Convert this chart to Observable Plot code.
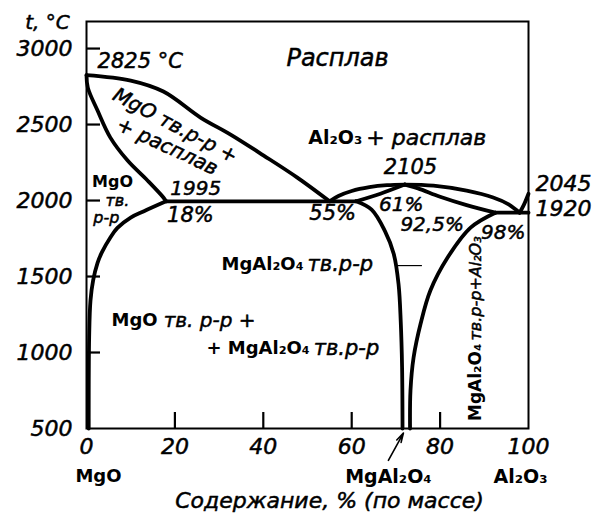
<!DOCTYPE html>
<html>
<head>
<meta charset="utf-8">
<script src="https://cdn.jsdelivr.net/npm/d3@7"></script>
<script src="https://cdn.jsdelivr.net/npm/@observablehq/plot@0.6"></script>
<style>
  html, body { margin: 0; padding: 0; background: #fff; }
</style>
</head>
<body>
<div id="chart"></div>
<script>
// Axis ticks: Al2O3 content, wt.% and temperature, °C
const compTicks = [0, 20, 40, 60, 80, 100];
const compInnerTicks = [20, 40, 60, 80];
const tempTicks = [500, 1000, 1500, 2000, 2500, 3000];
const tempInnerTicks = [1000, 1500, 2000, 2500, 3000];

// Phase boundaries of the MgO–Al2O3 system, points are [Al2O3 wt.%, t °C]
const liquidusMgO = [[0, 2825], [10, 2789], [17.4, 2717], [25.8, 2546], [32.6, 2434], [40.1, 2296], [47.7, 2151], [55, 1995]];
const solidusMgO = [[0, 2825], [0.3, 2743], [2.5, 2592], [5.4, 2414], [9.3, 2263], [13.8, 2132], [17.4, 2020], [18, 1995]];
const solvusMgO = [[18, 1995], [13, 1930], [10, 1888], [7, 1820], [5.4, 1757], [3.5, 1660], [2.5, 1590], [1.5, 1474], [0.9, 1342], [0.6, 1100], [0.5, 500]];
const eutecticMgO = [[18, 1995], [61, 1995]];
const liquidusSpinelLeft = [[55, 1995], [57, 2030], [60, 2063], [64, 2088], [68, 2101], [72, 2105]];
const solidusSpinelLeft = [[61, 1995], [66.5, 2045], [72, 2105]];
const liquidusSpinelRight = [[72, 2105], [78.5, 2098], [86, 2065], [92, 2020], [95.5, 1975], [98, 1920]];
const solidusSpinelRight = [[72, 2105], [75, 2080], [80, 2025], [86, 1970], [92.5, 1920]];
const eutecticAl2O3 = [[92.5, 1920], [100, 1920]];
const liquidusAl2O3 = [[98, 1920], [99, 1975], [100, 2045]];
const solvusSpinelLeft = [[61, 1995], [64.5, 1940], [67.5, 1800], [69.5, 1650], [70.6, 1450], [71.1, 1200], [71.4, 900], [71.5, 500]];
const solvusSpinelRight = [[92.5, 1920], [86.9, 1822], [81.7, 1625], [77.8, 1408], [75.6, 1191], [74, 967], [73.3, 750], [73.2, 500]];

// Composition of stoichiometric spinel, wt.% Al2O3
const spinelComp = 71.7;

// Text
const axisTitleX = "Содержание, % (по массе)";
const axisTitleY = "t, °C";
const endMembers = ["MgO", "MgAl₂O₄", "Al₂O₃"];
const pointLabels = ["2825 °C", "2105", "2045", "1920", "1995", "18%", "55%", "61%", "92,5%", "98%"];

const W = 599, H = 514;
const M = {top: 21, right: 71, bottom: 86, left: 86};
const tickLenY = 14, tickLenX = 16;

const ink = "black";
const boundary = {stroke: ink, strokeWidth: 3.8, strokeLinejoin: "round", strokeLinecap: "round"};
const curved = {...boundary, curve: "catmull-rom"};
// italic lettering drawn slightly heavier with a thin outline
const it = {fontStyle: "italic", fill: ink, stroke: ink, strokeWidth: 0.5};
const bold = {fontWeight: "bold", fill: ink};
const plain = d => String(d);

const chart = Plot.plot({
  width: W,
  height: H,
  marginLeft: M.left,
  marginRight: M.right,
  marginTop: M.top,
  marginBottom: M.bottom,
  style: {fontFamily: "DejaVu Sans", fontSize: "21px", color: ink, background: "white"},
  x: {domain: [0, 100]},
  y: {domain: [500, 3178]},
  marks: [
    Plot.frame({stroke: ink, strokeWidth: 2}),

    // short ticks pointing into the frame
    Plot.ruleY(tempInnerTicks, {stroke: ink, strokeWidth: 2.2, insetRight: W - M.left - M.right - tickLenY}),
    Plot.ruleX(compInnerTicks, {stroke: ink, strokeWidth: 2.2, insetTop: H - M.top - M.bottom - tickLenX}),
    // tick labels
    Plot.axisY(tempTicks, {tickSize: 0, tickPadding: 14, label: null, tickFormat: plain, fontSize: 22, fontStyle: "italic", textStroke: ink, textStrokeWidth: 0.5}),
    Plot.axisX(compTicks, {tickSize: 0, tickPadding: 10, label: null, tickFormat: plain, fontSize: 22, fontStyle: "italic", textStroke: ink, textStrokeWidth: 0.5}),

    // phase boundaries
    Plot.line(liquidusMgO, curved),
    Plot.line(solidusMgO, curved),
    Plot.line(solvusMgO, curved),
    Plot.line(eutecticMgO, boundary),
    Plot.line(liquidusSpinelLeft, curved),
    Plot.line(solidusSpinelLeft, curved),
    Plot.line(liquidusSpinelRight, curved),
    Plot.line(solidusSpinelRight, curved),
    Plot.line(eutecticAl2O3, boundary),
    Plot.line(liquidusAl2O3, curved),
    Plot.line(solvusSpinelLeft, curved),
    Plot.line(solvusSpinelRight, curved),

    // leader to the spinel solid-solution field
    Plot.ruleY([1572], {x1: 70, x2: 76, stroke: ink, strokeWidth: 1.2}),

    // arrow marking the spinel composition
    Plot.arrow([spinelComp], {x1: spinelComp - 3.4, y1: 290, x2: d => d, y2: 470, stroke: ink, strokeWidth: 1.6, headLength: 9, headAngle: 30}),

    // field labels
    Plot.text(["Расплав"], {x: 56.8, y: 2934, ...it, fontSize: 24}),
    Plot.text(["Al₂O₃"], {x: 62.4, y: 2414, textAnchor: "end", ...bold, fontSize: 19}),
    Plot.text(["+ расплав"], {x: 62.4, y: 2414, dx: 4, textAnchor: "start", ...it, fontSize: 22}),
    Plot.text(["MgO тв.р-р +"], {x: 20.1, y: 2493, rotate: 28, ...it, fontSize: 20}),
    Plot.text(["+ расплав"], {x: 18.3, y: 2355, rotate: 25, ...it, fontSize: 20}),
    Plot.text(["MgO"], {x: 5.9, y: 2125, ...bold, fontSize: 16}),
    Plot.text(["тв."], {x: 7, y: 2000, ...it, fontSize: 16}),
    Plot.text(["р-р"], {x: 4.5, y: 1888, ...it, fontSize: 16}),
    Plot.text(["MgAl₂O₄"], {x: 49.1, y: 1579, textAnchor: "end", ...bold, fontSize: 18}),
    Plot.text(["тв.р-р"], {x: 49.1, y: 1579, dx: 4, textAnchor: "start", ...it, fontSize: 21}),
    Plot.text(["MgO"], {x: 16.1, y: 1211, textAnchor: "end", ...bold, fontSize: 18}),
    Plot.text(["тв. р-р +"], {x: 16.1, y: 1211, dx: 6, textAnchor: "start", ...it, fontSize: 20}),
    Plot.text(["+ MgAl₂O₄"], {x: 50.5, y: 1026, textAnchor: "end", ...bold, fontSize: 18}),
    Plot.text(["тв.р-р"], {x: 50.5, y: 1026, dx: 4, textAnchor: "start", ...it, fontSize: 21}),
    Plot.text(["MgAl₂O₄"], {x: 88, y: 1059, rotate: -90, textAnchor: "end", ...bold, fontSize: 17}),
    Plot.text(["тв.р-р+Al₂O₃"], {x: 88, y: 1059, dy: -3, rotate: -90, textAnchor: "start", ...it, fontSize: 16}),

    // invariant points
    Plot.text([pointLabels[0]], {x: 2.5, y: 2914, textAnchor: "start", ...it}),
    Plot.text([pointLabels[1]], {x: 73.3, y: 2217, ...it}),
    Plot.text([pointLabels[2]], {x: 101.6, y: 2112, textAnchor: "start", ...it, fontSize: 22}),
    Plot.text([pointLabels[3]], {x: 101.6, y: 1947, textAnchor: "start", ...it, fontSize: 22}),
    Plot.text([pointLabels[4]], {x: 24.7, y: 2079, ...it, fontSize: 20}),
    Plot.text([pointLabels[5]], {x: 23.5, y: 1901, ...it}),
    Plot.text([pointLabels[6]], {x: 55.7, y: 1914, ...it}),
    Plot.text([pointLabels[7]], {x: 71.2, y: 1975, ...it, fontSize: 20}),
    Plot.text([pointLabels[8]], {x: 78.2, y: 1840, ...it, fontSize: 20}),
    Plot.text([pointLabels[9]], {x: 94.3, y: 1789, ...it, fontSize: 20}),

    // end members under the composition axis
    Plot.text([endMembers[0]], {x: 0, frameAnchor: "bottom", dx: 12, dy: 48, lineAnchor: "middle", ...bold, fontSize: 18}),
    Plot.text([endMembers[1]], {x: spinelComp, frameAnchor: "bottom", dx: -15, dy: 48, lineAnchor: "middle", ...bold, fontSize: 19}),
    Plot.text([endMembers[2]], {x: 100, frameAnchor: "bottom", dx: -8, dy: 48, lineAnchor: "middle", ...bold, fontSize: 19}),

    // axis titles
    Plot.text([axisTitleX], {frameAnchor: "bottom", dx: 22, dy: 72, textAnchor: "middle", lineAnchor: "middle", ...it, fontSize: 22}),
    Plot.text([axisTitleY], {frameAnchor: "top-left", dx: -39, dy: 1, textAnchor: "middle", lineAnchor: "middle", ...it, fontSize: 20})
  ]
});

document.getElementById("chart").appendChild(chart);
</script>
</body>
</html>
